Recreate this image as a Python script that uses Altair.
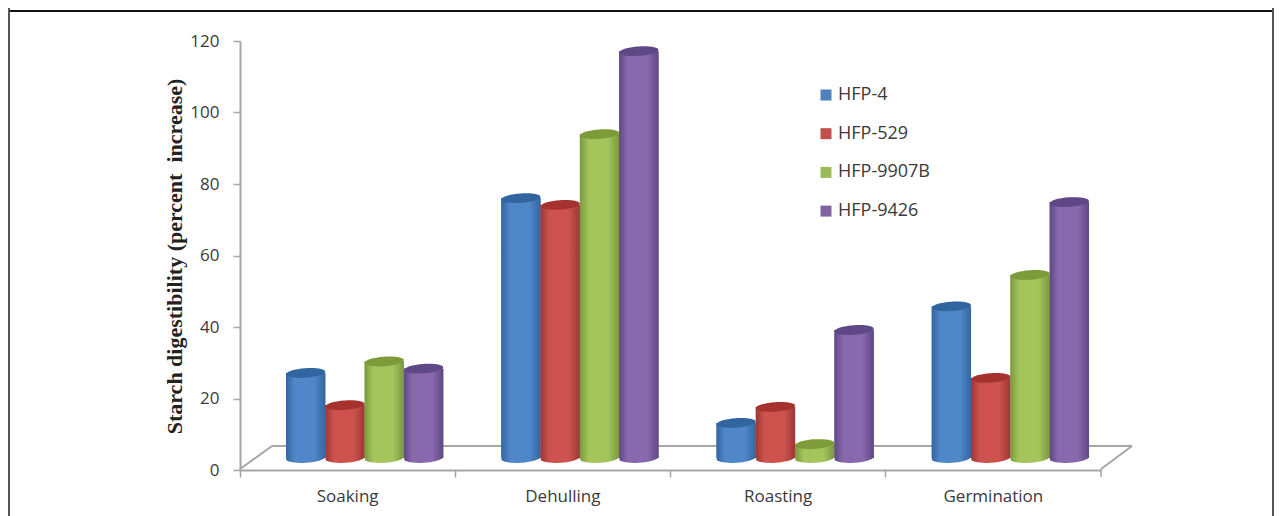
import altair as alt
import pandas as pd

categories = ["Soaking", "Dehulling", "Roasting", "Germination"]
series = ["HFP-4", "HFP-529", "HFP-9907B", "HFP-9426"]
values = {
    "HFP-4": [23.8, 72.7, 9.8, 42.4],
    "HFP-529": [14.8, 70.8, 14.3, 22.4],
    "HFP-9907B": [27.0, 90.6, 3.9, 51.2],
    "HFP-9426": [25.0, 113.8, 35.8, 71.6],
}
base_colors = ["#4f81bd", "#c0504d", "#9bbb59", "#8064a2"]
edge_colors = ["#34669f", "#9c3835", "#7a973f", "#5f4884"]
light_colors = ["#4f87c8", "#cd524e", "#a3c55b", "#8869ad"]
top_colors = ["#31659f", "#a5322e", "#7d9c39", "#5f4886"]

rows = [
    {"category": c, "series": s, "value": v, "zero": 0}
    for s in series for c, v in zip(categories, values[s])
]
df = pd.DataFrame(rows)

FONT = "Open Sans"
ELLIPSE = "M-1,0A1,.24,0,1,1,1,0A1,.24,0,1,1,-1,0Z"

x_axis_scale = alt.Scale(domain=categories, range=[232, 1093], paddingInner=0, paddingOuter=0)
x_bar_scale = alt.Scale(domain=categories, range=[249, 1110], paddingInner=0, paddingOuter=0)
y_axis_scale = alt.Scale(domain=[0, 120], range=[462, 33], nice=False)
y_bar_scale = alt.Scale(domain=[0, 120], range=[450, 21], nice=False)
off_scale = alt.Scale(domain=series, paddingInner=0, paddingOuter=0.737)

axis_layer = alt.Chart(df).mark_bar(opacity=0).encode(
    x=alt.X("category:N", scale=x_axis_scale, sort=categories, title=None,
            axis=alt.Axis(labelAngle=0, labelFont=FONT, labelFontSize=17, labelColor="#3a3a3a",
                          labelPadding=11, domainColor="#a6a6a6", domainWidth=2, tickColor="#a6a6a6",
                          tickWidth=1.5, tickSize=7, bandPosition=0, grid=False, offset=-46)),
    y=alt.Y("value:Q", scale=y_axis_scale, title="Starch digestibility (percent\u00a0 increase)",
            axis=alt.Axis(values=[0, 20, 40, 60, 80, 100, 120], labelFont=FONT, labelFontSize=17,
                          labelColor="#3a3a3a", labelPadding=14, domainColor="#a6a6a6", domainWidth=2,
                          tickColor="#a6a6a6", tickWidth=1.5, tickSize=7, grid=False, offset=-232,
                          titleFont="Liberation Serif", titleFontWeight="bold", titleFontSize=22,
                          titleColor="#222222", titlePadding=3, titleY=248)),
)

def deco(x, x2, y, y2, color="#a6a6a6", width=2):
    return alt.Chart(df.head(1)).mark_rule(color=color, strokeWidth=width).encode(
        x=alt.value(x), x2=alt.value(x2), y=alt.value(y), y2=alt.value(y2))

floor = [
    deco(232, 264, 461, 438),
    deco(264, 1124, 438, 438),
    deco(1124, 1093, 438, 461),
    deco(1093, 1093, 461, 469, width=1.5),
]
frame = [
    deco(1, 1265, 3, 3, "#111111", 2),
    deco(1, 1, 0, 508, "#555555", 2),
    deco(1265, 1265, 0, 508, "#555555", 2),
]

x_enc = alt.X("category:N", scale=x_bar_scale, sort=categories, axis=None)
off_enc = alt.XOffset("series:N", scale=off_scale, sort=series)
y_enc = alt.Y("value:Q", scale=y_bar_scale, axis=None)
y0_enc = alt.Y("zero:Q", scale=y_bar_scale, axis=None)

legend_layer = alt.Chart(df).mark_bar().encode(
    x=x_enc, xOffset=off_enc, y=y_enc,
    color=alt.Color("series:N", sort=series, title=None,
                    scale=alt.Scale(domain=series, range=base_colors),
                    legend=alt.Legend(orient="none", legendX=809, legendY=78, symbolType="square",
                                      symbolSize=121, symbolStrokeWidth=0, labelFont=FONT,
                                      labelFontSize=18, labelColor="#3a3a3a", rowPadding=20.7,
                                      labelOffset=3, symbolOpacity=1)),
)

layers = [axis_layer] + floor + frame + [legend_layer]
for i, s in enumerate(series):
    d = df[df["series"] == s]
    grad = alt.LinearGradient(
        gradient="linear", x1=0, x2=1, y1=0, y2=0,
        stops=[alt.GradientStop(color=edge_colors[i], offset=0),
               alt.GradientStop(color=light_colors[i], offset=0.22),
               alt.GradientStop(color=light_colors[i], offset=0.72),
               alt.GradientStop(color=edge_colors[i], offset=1)],
    )
    layers.append(alt.Chart(d).mark_point(shape=ELLIPSE, filled=True, size=1544, opacity=1, angle=356,
                                          strokeWidth=0, color=grad).encode(x=x_enc, xOffset=off_enc, y=y0_enc))
    layers.append(alt.Chart(d).mark_bar(color=grad).encode(x=x_enc, xOffset=off_enc, y=y_enc))
    layers.append(alt.Chart(d).mark_point(shape=ELLIPSE, filled=True, size=1544, opacity=1, angle=356,
                                          strokeWidth=0, color=top_colors[i]).encode(x=x_enc, xOffset=off_enc, y=y_enc))

chart = alt.layer(*layers).resolve_scale(x="independent", y="independent").properties(
    width=1266, height=508, padding=0, autosize=alt.AutoSizeParams(type="none"),
    background="white",
).configure_view(stroke=None)

chart.save("out.html", embed_options={"renderer": "svg", "actions": False})
